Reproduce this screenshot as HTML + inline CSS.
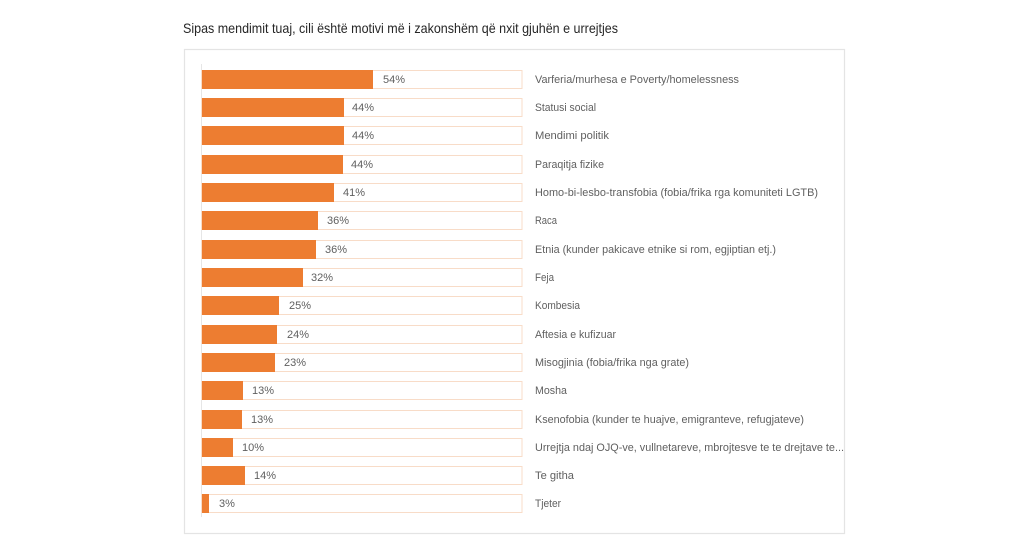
<!DOCTYPE html>
<html>
<head>
<meta charset="utf-8">
<style>
  html,body{margin:0;padding:0;background:#fff;}
  svg{display:block;}
  text{font-family:"Liberation Sans",sans-serif;}
</style>
</head>
<body>
<svg width="1026" height="550" viewBox="0 0 1026 550" xmlns="http://www.w3.org/2000/svg">
  <rect x="0" y="0" width="1026" height="550" fill="#ffffff"/>
  <text x="183" y="33" font-size="14" fill="#262626" textLength="435" lengthAdjust="spacingAndGlyphs">Sipas mendimit tuaj, cili është motivi më i zakonshëm që nxit gjuhën e urrejtjes</text>
  <rect x="184.5" y="49.5" width="660" height="484" fill="#ffffff" stroke="#e4e4e4" stroke-width="1.2"/>
  <line x1="201.5" y1="64" x2="201.5" y2="517" stroke="#e6e6e6" stroke-width="1"/>

  <g font-size="11" fill="#606060">
    <!-- row 0 -->
    <rect x="201.5" y="70.5" width="320.5" height="18" fill="#fff" stroke="#f8dcc8" stroke-width="1"/>
    <rect x="202" y="70" width="171" height="19" fill="#ED7D31"/>
    <text x="383" y="83">54%</text>
    <text x="535" y="83" textLength="204" lengthAdjust="spacingAndGlyphs">Varferia/murhesa e Poverty/homelessness</text>
    <!-- row 1 -->
    <rect x="201.5" y="98.5" width="320.5" height="18" fill="#fff" stroke="#f8dcc8" stroke-width="1"/>
    <rect x="202" y="98" width="142" height="19" fill="#ED7D31"/>
    <text x="352" y="111">44%</text>
    <text x="535" y="111" textLength="61" lengthAdjust="spacingAndGlyphs">Statusi social</text>
    <!-- row 2 -->
    <rect x="201.5" y="126.5" width="320.5" height="18" fill="#fff" stroke="#f8dcc8" stroke-width="1"/>
    <rect x="202" y="126" width="142" height="19" fill="#ED7D31"/>
    <text x="352" y="139">44%</text>
    <text x="535" y="139" textLength="74" lengthAdjust="spacingAndGlyphs">Mendimi politik</text>
    <!-- row 3 -->
    <rect x="201.5" y="155.5" width="320.5" height="18" fill="#fff" stroke="#f8dcc8" stroke-width="1"/>
    <rect x="202" y="155" width="141" height="19" fill="#ED7D31"/>
    <text x="351" y="168">44%</text>
    <text x="535" y="168" textLength="69" lengthAdjust="spacingAndGlyphs">Paraqitja fizike</text>
    <!-- row 4 -->
    <rect x="201.5" y="183.5" width="320.5" height="18" fill="#fff" stroke="#f8dcc8" stroke-width="1"/>
    <rect x="202" y="183" width="132" height="19" fill="#ED7D31"/>
    <text x="343" y="196">41%</text>
    <text x="535" y="196" textLength="283" lengthAdjust="spacingAndGlyphs">Homo-bi-lesbo-transfobia (fobia/frika rga komuniteti LGTB)</text>
    <!-- row 5 -->
    <rect x="201.5" y="211.5" width="320.5" height="18" fill="#fff" stroke="#f8dcc8" stroke-width="1"/>
    <rect x="202" y="211" width="116" height="19" fill="#ED7D31"/>
    <text x="327" y="224">36%</text>
    <text x="535" y="224" textLength="22" lengthAdjust="spacingAndGlyphs">Raca</text>
    <!-- row 6 -->
    <rect x="201.5" y="240.5" width="320.5" height="18" fill="#fff" stroke="#f8dcc8" stroke-width="1"/>
    <rect x="202" y="240" width="114" height="19" fill="#ED7D31"/>
    <text x="325" y="253">36%</text>
    <text x="535" y="253" textLength="241" lengthAdjust="spacingAndGlyphs">Etnia (kunder pakicave etnike si rom, egjiptian etj.)</text>
    <!-- row 7 -->
    <rect x="201.5" y="268.5" width="320.5" height="18" fill="#fff" stroke="#f8dcc8" stroke-width="1"/>
    <rect x="202" y="268" width="101" height="19" fill="#ED7D31"/>
    <text x="311" y="281">32%</text>
    <text x="535" y="281" textLength="19" lengthAdjust="spacingAndGlyphs">Feja</text>
    <!-- row 8 -->
    <rect x="201.5" y="296.5" width="320.5" height="18" fill="#fff" stroke="#f8dcc8" stroke-width="1"/>
    <rect x="202" y="296" width="77" height="19" fill="#ED7D31"/>
    <text x="289" y="309">25%</text>
    <text x="535" y="309" textLength="45" lengthAdjust="spacingAndGlyphs">Kombesia</text>
    <!-- row 9 -->
    <rect x="201.5" y="325.5" width="320.5" height="18" fill="#fff" stroke="#f8dcc8" stroke-width="1"/>
    <rect x="202" y="325" width="75" height="19" fill="#ED7D31"/>
    <text x="287" y="338">24%</text>
    <text x="535" y="338" textLength="81" lengthAdjust="spacingAndGlyphs">Aftesia e kufizuar</text>
    <!-- row 10 -->
    <rect x="201.5" y="353.5" width="320.5" height="18" fill="#fff" stroke="#f8dcc8" stroke-width="1"/>
    <rect x="202" y="353" width="73" height="19" fill="#ED7D31"/>
    <text x="284" y="366">23%</text>
    <text x="535" y="366" textLength="154" lengthAdjust="spacingAndGlyphs">Misogjinia (fobia/frika nga grate)</text>
    <!-- row 11 -->
    <rect x="201.5" y="381.5" width="320.5" height="18" fill="#fff" stroke="#f8dcc8" stroke-width="1"/>
    <rect x="202" y="381" width="41" height="19" fill="#ED7D31"/>
    <text x="252" y="394">13%</text>
    <text x="535" y="394" textLength="32" lengthAdjust="spacingAndGlyphs">Mosha</text>
    <!-- row 12 -->
    <rect x="201.5" y="410.5" width="320.5" height="18" fill="#fff" stroke="#f8dcc8" stroke-width="1"/>
    <rect x="202" y="410" width="40" height="19" fill="#ED7D31"/>
    <text x="251" y="423">13%</text>
    <text x="535" y="423" textLength="269" lengthAdjust="spacingAndGlyphs">Ksenofobia (kunder te huajve, emigranteve, refugjateve)</text>
    <!-- row 13 -->
    <rect x="201.5" y="438.5" width="320.5" height="18" fill="#fff" stroke="#f8dcc8" stroke-width="1"/>
    <rect x="202" y="438" width="31" height="19" fill="#ED7D31"/>
    <text x="242" y="451">10%</text>
    <text x="535" y="451" textLength="309" lengthAdjust="spacingAndGlyphs">Urrejtja ndaj OJQ-ve, vullnetareve, mbrojtesve te te drejtave te...</text>
    <!-- row 14 -->
    <rect x="201.5" y="466.5" width="320.5" height="18" fill="#fff" stroke="#f8dcc8" stroke-width="1"/>
    <rect x="202" y="466" width="43" height="19" fill="#ED7D31"/>
    <text x="254" y="479">14%</text>
    <text x="535" y="479" textLength="39" lengthAdjust="spacingAndGlyphs">Te githa</text>
    <!-- row 15 -->
    <rect x="201.5" y="494.5" width="320.5" height="18" fill="#fff" stroke="#f8dcc8" stroke-width="1"/>
    <rect x="202" y="494" width="7" height="19" fill="#ED7D31"/>
    <text x="219" y="507">3%</text>
    <text x="535" y="507" textLength="26" lengthAdjust="spacingAndGlyphs">Tjeter</text>
  </g>
</svg>
</body>
</html>
